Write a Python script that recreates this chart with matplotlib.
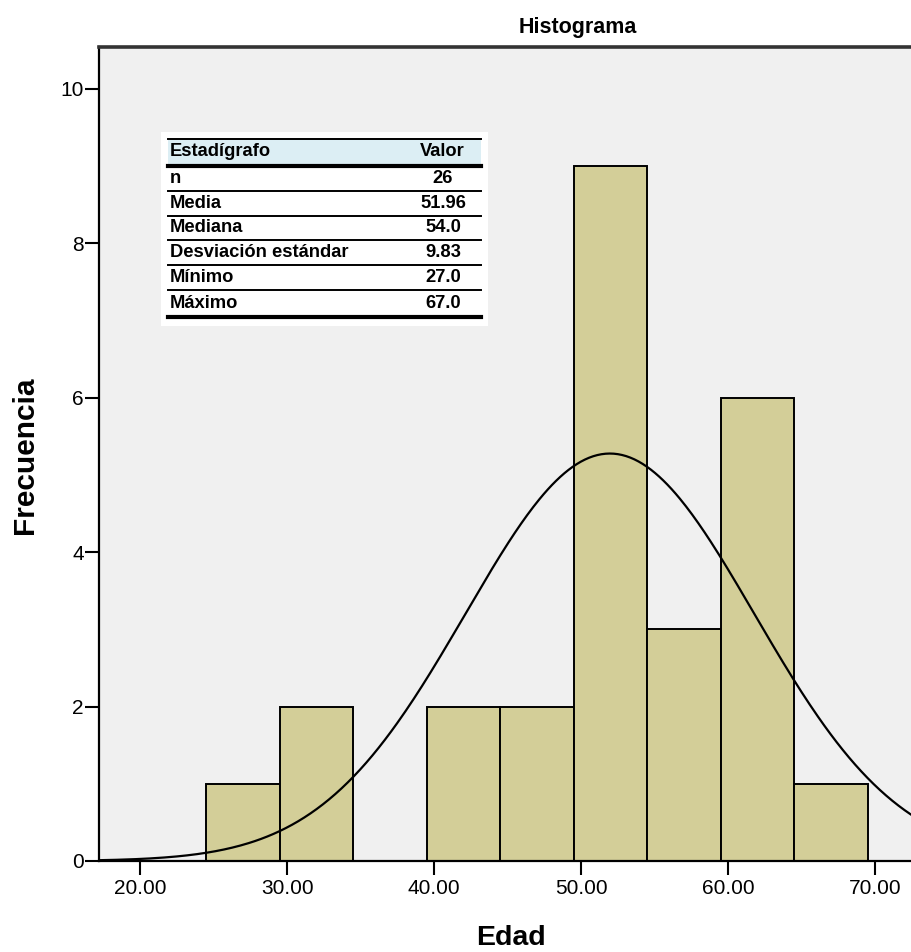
import numpy as np
import matplotlib
matplotlib.use("Agg")
import matplotlib.pyplot as plt
from matplotlib.patches import Rectangle
from matplotlib.lines import Line2D

plt.rcParams['font.family'] = ['Liberation Sans', 'DejaVu Sans']

# histogram data (bins of width 5, SPSS style edges at .5)
bin_edges = [24.5, 29.5, 34.5, 39.5, 44.5, 49.5, 54.5, 59.5, 64.5, 69.5]
counts = [1, 2, 0, 2, 2, 9, 3, 6, 1]

# summary table
stat_names = ['n', 'Media', 'Mediana', 'Desviación estándar', 'Mínimo', 'Máximo']
stat_values = ['26', '51.96', '54.0', '9.83', '27.0', '67.0']
n_obs = 26
mean_val = 51.96
sd_val = 9.83

x_ticks = [20, 30, 40, 50, 60, 70]
y_ticks = [0, 2, 4, 6, 8, 10]

W, H = 911, 952
fig = plt.figure(figsize=(W / 100, H / 100), dpi=100)
fig.patch.set_facecolor('white')


def fx(px):
    return px / W


def fy(py):
    return 1 - py / H


ax = fig.add_axes([fx(99), fy(861), 1 - fx(99), fy(47) - fy(861)])
ax.set_facecolor('#F0F0F0')

widths = np.diff(bin_edges)
ax.bar(bin_edges[:-1], counts, width=widths, align='edge',
       color='#D3CE98', edgecolor='black', linewidth=1.4, zorder=2)

# fitted normal curve
xs = np.linspace(17.0, 73.0, 400)
bw = widths[0]
ys = n_obs * bw / (sd_val * np.sqrt(2 * np.pi)) * np.exp(-0.5 * ((xs - mean_val) / sd_val) ** 2)
ax.plot(xs, ys, color='black', linewidth=1.6, zorder=3)

ax.set_xlim(17.2, 72.45)
ax.set_ylim(0, 10.54)
ax.set_xticks(x_ticks)
ax.set_xticklabels([f"{v:.2f}" for v in x_ticks])
ax.set_yticks(y_ticks)
ax.set_yticklabels([str(v) for v in y_ticks])
ax.tick_params(axis='x', direction='out', length=10, width=1.5, pad=3, labelsize=15)
ax.tick_params(axis='y', direction='out', length=10, width=1.5, pad=1, labelsize=15)

ax.spines['right'].set_visible(False)
ax.spines['left'].set_linewidth(1.6)
ax.spines['bottom'].set_linewidth(1.6)
ax.spines['top'].set_linewidth(2.6)
ax.spines['top'].set_color('#333333')

fig.text(fx(578), fy(33), 'Histograma', ha='center', va='baseline',
         fontsize=15.5, fontweight='bold')
fig.text(fx(25), fy(455), 'Frecuencia', ha='center', va='center',
         rotation=90, fontsize=21.5, fontweight='bold')
fig.text(fx(511), fy(938), 'Edad', ha='center', va='center',
         fontsize=20.5, fontweight='bold')

# statistics table drawn on figure
t_left, t_right = 168, 481
fig.patches.append(Rectangle((fx(161), fy(326)), fx(488) - fx(161), fy(132) - fy(326),
                             transform=fig.transFigure, facecolor='white',
                             edgecolor='none', zorder=5))
fig.patches.append(Rectangle((fx(t_left), fy(165)), fx(t_right) - fx(t_left), fy(140) - fy(165),
                             transform=fig.transFigure, facecolor='#DCEEF4',
                             edgecolor='none', zorder=6))

row_lines = [(139, 1.4), (166, 3.0), (191, 1.4), (216, 1.4), (240, 1.4),
             (265, 1.4), (290, 1.4), (317, 3.0)]
for py, lw in row_lines:
    fig.lines.append(Line2D([fx(t_left), fx(t_right)], [fy(py), fy(py)],
                            transform=fig.transFigure, color='black',
                            linewidth=lw, zorder=7))

txt_kw = dict(fontsize=13.2, fontweight='bold', va='center', zorder=8)
fig.text(fx(170), fy(152), 'Estadígrafo', ha='left', **txt_kw)
fig.text(fx(442), fy(152), 'Valor', ha='center', **txt_kw)
row_bounds = [166, 191, 216, 240, 265, 290, 317]
for i, (name, val) in enumerate(zip(stat_names, stat_values)):
    yc = (row_bounds[i] + row_bounds[i + 1]) / 2
    fig.text(fx(170), fy(yc), name, ha='left', **txt_kw)
    fig.text(fx(443), fy(yc), val, ha='center', **txt_kw)

fig.savefig('out.png', dpi=100)
